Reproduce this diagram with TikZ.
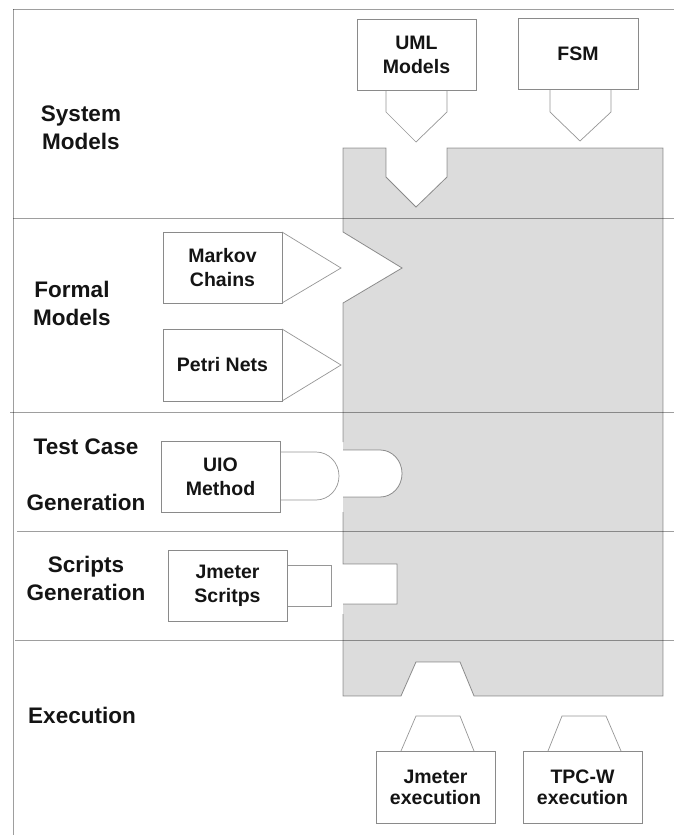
\documentclass[tikz,border=0pt]{standalone}
\usepackage{fontspec}
\setmainfont{Liberation Sans}
\definecolor{boxgray}{RGB}{138,138,138}
\definecolor{tabgray}{RGB}{150,150,150}
\definecolor{blockfill}{RGB}{220,220,220}
\definecolor{inkblack}{RGB}{20,20,20}
\begin{document}
\begin{tikzpicture}[x=1pt,y=-1pt,
  frameline/.style={draw=black, draw opacity=0.38, line width=0.9pt},
  blockedge/.style={draw=black, draw opacity=0.4, line width=0.8pt},
  box/.style={draw=boxgray, line width=0.8pt, fill=white, minimum width=119pt,
    minimum height=71pt, inner sep=0pt, align=center,
    font=\fontsize{19.5}{24}\selectfont\bfseries, text=inkblack},
  tab/.style={draw=tabgray, line width=0.7pt, fill=white},
  lab/.style={align=center, inner sep=0pt,
    font=\fontsize{22.5}{28}\selectfont\bfseries, text=inkblack}]
\useasboundingbox (0,0) rectangle (674,835);

% grey block with notches
\fill[blockfill] (343,148) -- (386,148) -- (386,177) -- (416,207) -- (447,177) -- (447,148)
  -- (663,148) -- (663,696) -- (474,696) -- (460,662) -- (416,662) -- (401,696) -- (343,696)
  -- (343,604) -- (397,604) -- (397,564) -- (343,564) -- (343,497) -- (380,497)
  .. controls (392.2,497) and (402,486.5) .. (402,473.5)
  .. controls (402,460.5) and (392.2,450) .. (380,450)
  -- (343,450) -- (343,303) -- (402,268) -- (343,232) -- cycle;
\draw[blockedge] (343,442) -- (343,303) -- (402,268) -- (343,232) -- (343,148) -- (386,148)
  -- (386,177) -- (416,207) -- (447,177) -- (447,148) -- (663,148) -- (663,696) -- (474,696)
  -- (460,662) -- (416,662) -- (401,696) -- (343,696) -- (343,614)
  (343,604) -- (397,604) -- (397,564) -- (343,564) -- (343,512)
  (343,497) -- (380,497)
  .. controls (392.2,497) and (402,486.5) .. (402,473.5)
  .. controls (402,460.5) and (392.2,450) .. (380,450) -- (343,450);

% frame lines
\draw[frameline] (13,9) -- (674,9);
\draw[frameline] (13,9) -- (13,835);
\draw[frameline] (13,218) -- (674,218);
\draw[frameline] (10,412) -- (674,412);
\draw[frameline] (17,531) -- (674,531);
\draw[frameline] (15,640) -- (674,640);

% row labels
\node[lab] (lsys) at (81,128) {System\\Models};
\node[lab] (lformal) at (72,303) {Formal\\Models};
\node[lab] (ltest) at (86,475) {Test Case\\[28pt]Generation};
\node[lab] (lscripts) at (86,578) {Scripts\\Generation};
\node[lab] (lexec) at (82,715) {Execution};

% tabs
\filldraw[tab] (386,90) -- (386,112) -- (416,142) -- (447,112) -- (447,90);
\filldraw[tab] (550,89) -- (550,112) -- (580,141) -- (611,112) -- (611,89);
\filldraw[tab] (282,232) -- (341,268) -- (282,303);
\filldraw[tab] (282,329) -- (341,365) -- (282,401);
\filldraw[tab] (280,452) -- (316,452)
  .. controls (328.7,452) and (339,462.7) .. (339,476)
  .. controls (339,489.3) and (328.7,500) .. (316,500) -- (280,500);
\filldraw[tab] (287,565) -- (331,565) -- (331,606) -- (287,606);
\filldraw[tab] (401,751) -- (416,716) -- (460,716) -- (474,751);
\filldraw[tab] (548,751) -- (562,716) -- (606,716) -- (621,751);

% boxes
\node[box] (uml) at (416.5,54.5) {UML\\Models};
\node[box, minimum width=120pt] (fsm) at (578,53.5) {FSM};
\node[box] (markov) at (222.5,267.5) {Markov\\Chains};
\node[box, minimum height=72pt] (petri) at (222.5,365) {Petri Nets};
\node[box] (uio) at (220.5,476.5) {UIO\\Method};
\node[box] (jscripts) at (227.5,585.5) {Jmeter\\Scritps};
\node[box, minimum height=72pt, font=\fontsize{19.5}{21}\selectfont\bfseries] (jexec) at (435.5,787) {Jmeter\\execution};
\node[box, minimum height=72pt, font=\fontsize{19.5}{21}\selectfont\bfseries] (tpcw) at (582.5,787) {TPC-W\\execution};
\end{tikzpicture}
\end{document}
